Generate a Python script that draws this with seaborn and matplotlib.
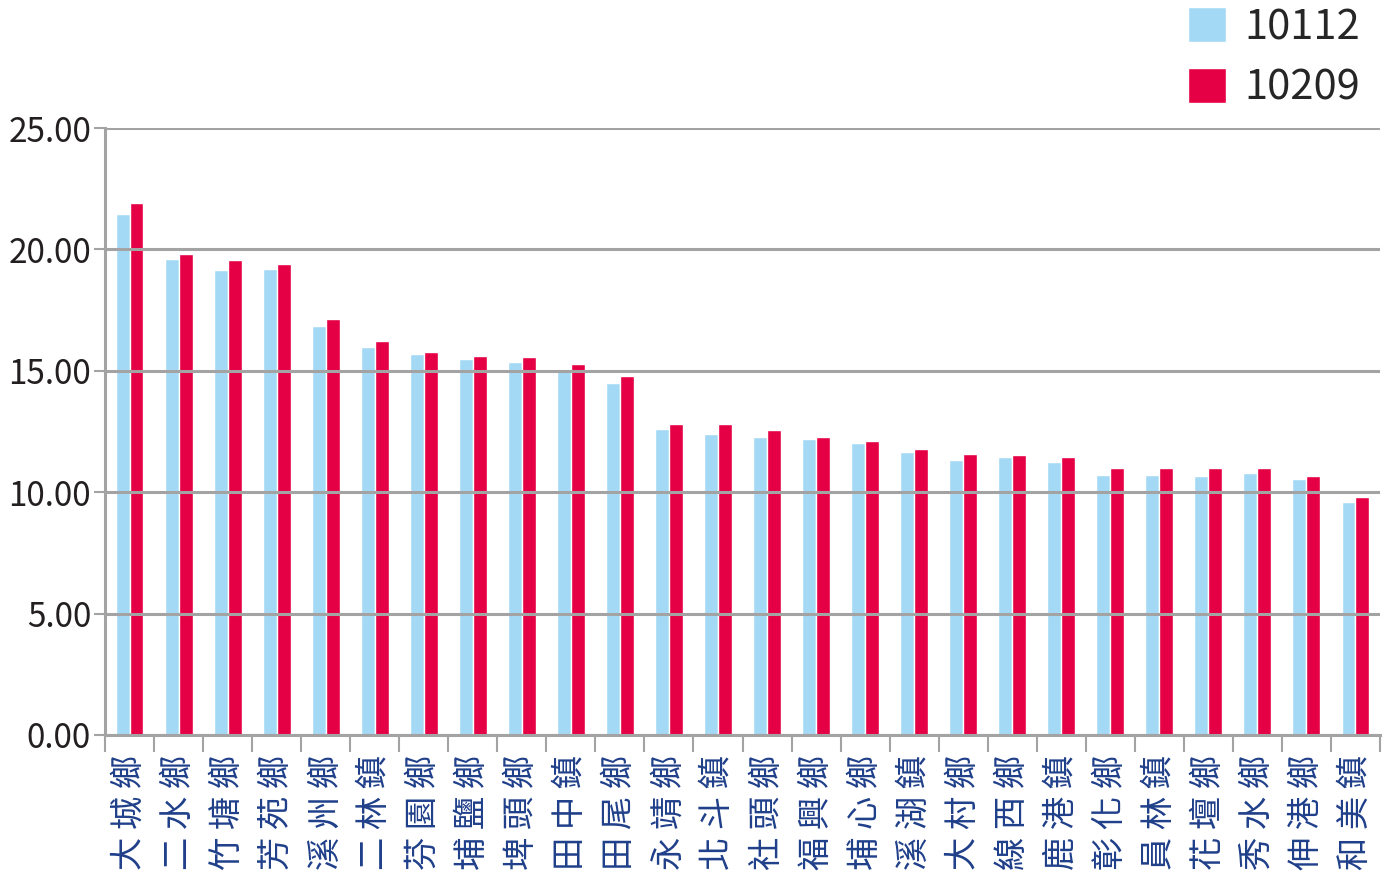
import pandas as pd
import numpy as np
import matplotlib
matplotlib.use("Agg")
import matplotlib.pyplot as plt
import seaborn as sns

towns = ["大城鄉", "二水鄉", "竹塘鄉", "芳苑鄉", "溪州鄉", "二林鎮", "芬園鄉", "埔鹽鄉",
         "埤頭鄉", "田中鎮", "田尾鄉", "永靖鄉", "北斗鎮", "社頭鄉", "福興鄉", "埔心鄉",
         "溪湖鎮", "大村鄉", "線西鄉", "鹿港鎮", "彰化鄉", "員林鎮", "花壇鄉", "秀水鄉",
         "伸港鄉", "和美鎮"]
v10112 = [21.45, 19.60, 19.15, 19.19, 16.85, 15.98, 15.69, 15.49, 15.36, 15.02,
          14.50, 12.60, 12.40, 12.27, 12.19, 12.03, 11.66, 11.33, 11.45, 11.24,
          10.71, 10.71, 10.67, 10.79, 10.54, 9.60]
v10209 = [21.91, 19.81, 19.56, 19.40, 17.13, 16.23, 15.77, 15.61, 15.57, 15.28,
          14.79, 12.81, 12.81, 12.56, 12.27, 12.11, 11.78, 11.57, 11.53, 11.45,
          11.00, 11.00, 11.00, 11.00, 10.67, 9.80]
periods = ["10112", "10209"]
colors = ["#a3d9f5", "#e50045"]

df = pd.DataFrame({
    "town": towns * 2,
    "period": [periods[0]] * len(towns) + [periods[1]] * len(towns),
    "value": v10112 + v10209,
})

sns.set_style("white")
plt.rcParams["font.family"] = ["Noto Sans CJK TC", "DejaVu Sans"]

fig = plt.figure(figsize=(13.9, 8.74), dpi=100)
ax = fig.add_axes([105 / 1390, 1 - 735 / 874, 1275 / 1390, 607 / 874])

sns.barplot(data=df, x="town", y="value", hue="period", palette=colors,
            width=0.57, gap=0, saturation=1, ax=ax, legend=True)

ax.set_xlim(-0.5, len(towns) - 0.5)
ax.set_ylim(0, 25)
ax.set_yticks([0, 5, 10, 15, 20, 25])
ax.set_yticklabels([f"{t:.2f}" for t in [0, 5, 10, 15, 20, 25]])
ax.set_xlabel("")
ax.set_ylabel("")

# gridlines drawn over the bars
ax.set_axisbelow(False)
ax.yaxis.grid(True, color="#a3a3a3", linewidth=2.2)
ax.xaxis.grid(False)

for s in ["top", "right"]:
    ax.spines[s].set_visible(False)
for s in ["left", "bottom"]:
    ax.spines[s].set_color("#a3a3a3")
    ax.spines[s].set_linewidth(2.2)

ax.tick_params(axis="y", length=8, width=1.5, color="#a3a3a3", pad=2,
               labelsize=24, labelcolor="#231f20", left=True)

# category labels rotated (spaced out characters), ticks at category boundaries
ax.set_xticks(np.arange(len(towns)))
ax.set_xticklabels([" ".join(t) for t in towns], rotation=90, fontsize=24, color="#1f3f8a")
ax.tick_params(axis="x", which="major", length=0, pad=14)
ax.set_xticks(np.arange(len(towns) + 1) - 0.5, minor=True)
ax.tick_params(axis="x", which="minor", length=12, width=1.5, color="#a3a3a3", bottom=True)

handles, labels = ax.get_legend_handles_labels()
ax.legend(handles, labels, loc="upper right", bbox_to_anchor=(1360 / 1390, 1 - 7 / 874),
          bbox_transform=fig.transFigure, frameon=False, fontsize=30,
          handlelength=0.9, handleheight=0.9, handletextpad=0.45,
          labelspacing=0.48, borderpad=0, borderaxespad=0)

fig.savefig("out.png", dpi=100)
